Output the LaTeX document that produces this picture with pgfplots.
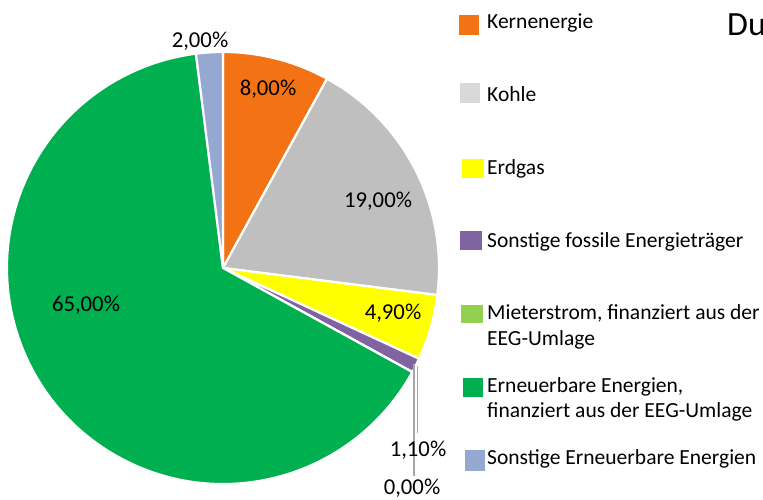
\documentclass[border=0pt]{standalone}
\usepackage{pgfplots}
\pgfplotsset{compat=1.18}
\usepackage{pgfplotstable}
\usepackage{fontspec}
\setmainfont{Carlito}
\definecolor{c0}{RGB}{243,114,19}
\definecolor{c1}{RGB}{191,191,191}
\definecolor{l1}{RGB}{217,217,217}
\definecolor{c2}{RGB}{255,255,0}
\definecolor{c3}{RGB}{128,100,162}
\definecolor{c4}{RGB}{146,208,80}
\definecolor{c5}{RGB}{0,176,80}
\definecolor{c6}{RGB}{149,168,210}
\definecolor{lead}{RGB}{166,166,166}
\pgfplotstableread{
label value
Kernenergie 8.00
Kohle 19.00
Erdgas 4.90
SonstigeFossile 1.10
Mieterstrom 0.00
Erneuerbare 65.00
SonstigeEE 2.00
}\piedata
\newcommand{\lab}{\fontsize{21.6}{25}\selectfont}
\newcommand{\dlab}{\fontsize{22.8}{25}\selectfont}
\begin{document}
\begin{tikzpicture}
\useasboundingbox (0,0) rectangle (763bp,500bp);
\xdef\cum{90}
\foreach \i in {0,...,6}{%
  \pgfplotstablegetelem{\i}{value}\of\piedata
  \pgfmathsetmacro\en{\cum-3.6*\pgfplotsretval}%
  \expandafter\xdef\csname sA\i\endcsname{\cum}%
  \expandafter\xdef\csname eA\i\endcsname{\en}%
  \xdef\cum{\en}%
}
\begin{axis}[
  at={(0,0)}, anchor=south west,
  scale only axis, width=763bp, height=500bp,
  xmin=0, xmax=763, ymin=0, ymax=500, y dir=reverse,
  hide axis, clip=false]
\pgfplotsinvokeforeach{0,...,6}{
  \fill[c#1, draw=white, line width=2.2bp, line join=round]
    (axis cs:223,268) -- ++(\csname sA#1\endcsname:216bp)
    arc[start angle=\csname sA#1\endcsname, end angle=\csname eA#1\endcsname, radius=216bp] -- cycle;
}
% leader lines
\draw[lead, line width=1.2bp] (axis cs:417.5,366) -- (axis cs:417.5,433);
\draw[lead, line width=1.2bp] (axis cs:414,364) -- (axis cs:414,476);
% data labels
\node[anchor=base, font=\dlab] at (axis cs:268,95) {8,00\%};
\node[anchor=base, font=\dlab] at (axis cs:378,207) {19,00\%};
\node[anchor=base, font=\dlab] at (axis cs:393,319) {4,90\%};
\node[anchor=base, font=\dlab] at (axis cs:86,311) {65,00\%};
\node[anchor=base, font=\dlab] at (axis cs:200,47) {2,00\%};
\node[anchor=base, font=\dlab] at (axis cs:418,456) {1,10\%};
\node[anchor=base, font=\dlab] at (axis cs:412,494) {0,00\%};
% legend
\fill[c0] (axis cs:459,15) rectangle (axis cs:479,35);
\fill[l1] (axis cs:460,83) rectangle (axis cs:480,103);
\fill[c2] (axis cs:462,159) rectangle (axis cs:484,178);
\fill[c3] (axis cs:460,231) rectangle (axis cs:482,250);
\fill[c4] (axis cs:461,305) rectangle (axis cs:483,323);
\fill[c5] (axis cs:463,378) rectangle (axis cs:483,397);
\fill[c6] (axis cs:465,450) rectangle (axis cs:485,471);
\node[anchor=base west, inner xsep=0pt, font=\lab] at (axis cs:487,28) {Kernenergie};
\node[anchor=base west, inner xsep=0pt, font=\lab] at (axis cs:487,101) {Kohle};
\node[anchor=base west, inner xsep=0pt, font=\lab] at (axis cs:487,174) {Erdgas};
\node[anchor=base west, inner xsep=0pt, font=\lab] at (axis cs:487,247) {Sonstige fossile Energieträger};
\node[anchor=base west, inner xsep=0pt, font=\lab] at (axis cs:487,319) {Mieterstrom, finanziert aus der};
\node[anchor=base west, inner xsep=0pt, font=\lab] at (axis cs:487,345) {EEG-Umlage};
\node[anchor=base west, inner xsep=0pt, font=\lab] at (axis cs:487,392) {Erneuerbare Energien,};
\node[anchor=base west, inner xsep=0pt, font=\lab] at (axis cs:487,417) {finanziert aus der EEG-Umlage};
\node[anchor=base west, inner xsep=0pt, font=\lab] at (axis cs:487,464) {Sonstige Erneuerbare Energien};
% title (cut off at the right edge, as in the reference)
\node[anchor=base west, inner xsep=0pt, font=\fontsize{34}{40}\selectfont] at (axis cs:727,35) {Du};
\end{axis}
\end{tikzpicture}
\end{document}
